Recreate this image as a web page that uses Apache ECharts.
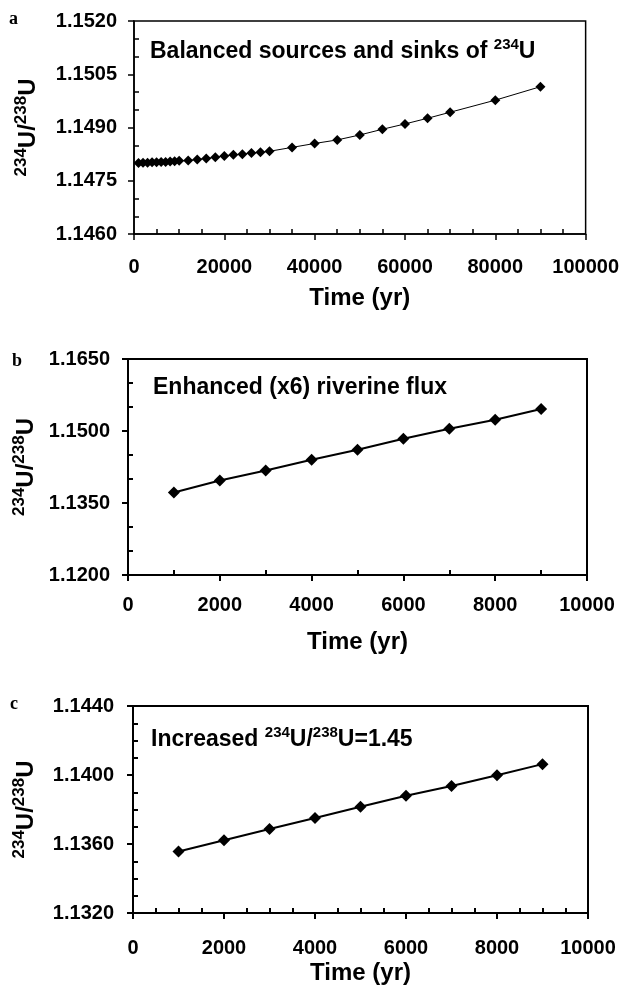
<!DOCTYPE html>
<html>
<head>
<meta charset="utf-8">
<title>234U/238U model runs</title>
<script src="https://cdn.jsdelivr.net/npm/echarts@6/dist/echarts.min.js"></script>
<style>
  html, body { margin: 0; padding: 0; background: #fff; }
  #main { width: 622px; height: 989px; }
</style>
</head>
<body>
<div id="main"></div>
<script>
// panel a - balanced sources and sinks of 234U
var timeA = [1000, 2000, 3000, 4000, 5000, 6000, 7000, 8000, 9000, 10000,
  12000, 14000, 16000, 18000, 20000, 22000, 24000, 26000, 28000, 30000,
  35000, 40000, 45000, 50000, 55000, 60000, 65000, 70000, 80000, 90000];
var ratioA = [1.14800, 1.14801, 1.14801, 1.14802, 1.14802, 1.14803, 1.14803, 1.14804, 1.14805, 1.14806,
  1.14807, 1.14810, 1.14813, 1.14816, 1.14820, 1.14823, 1.14825, 1.14828, 1.14830, 1.14833,
  1.14844, 1.14855, 1.14865, 1.14879, 1.14895, 1.14910, 1.14926, 1.14943, 1.14977, 1.15015];

// panel b - enhanced (x6) riverine flux
var timeB = [1000, 2000, 3000, 4000, 5000, 6000, 7000, 8000, 9000];
var ratioB = [1.13717, 1.13967, 1.14176, 1.14399, 1.14608, 1.14837, 1.15046, 1.15234, 1.15457];

// panel c - increased 234U/238U of the input
var timeC = [1000, 2000, 3000, 4000, 5000, 6000, 7000, 8000, 9000];
var ratioC = [1.13556, 1.13622, 1.13687, 1.13751, 1.13816, 1.13880, 1.13936, 1.13999, 1.14063];

// y axis floors and steps (real values)
var yFloor = [1.1460, 1.1200, 1.1320];
var yTop = [1.1520, 1.1650, 1.1440];
var yStep = [0.0015, 0.0150, 0.0040];

var font = 'Liberation Sans';
var chart = echarts.init(document.getElementById('main'));

// y is plotted as offset from the floor in units of 1e-4, so ticks start on the floor
function toOffset(v, i) { return Math.round((v - yFloor[i]) * 1e6) / 100; }
function pairs(xs, ys, i) {
  return xs.map(function (x, k) { return [x, toOffset(ys[k], i)]; });
}

var panels = [
  { grid: { left: 134, right: 35, top: 21, height: 213 }, xMax: 100000, xStep: 20000, xMinor: 4, yMinor: 3,
    xs: timeA, ys: ratioA, lw: 1, sym: 10, aw: 1.5, xGap: 23, xName: 52, yGap: 17, yName: 94 },
  { grid: { left: 128, right: 35, top: 359, height: 216 }, xMax: 10000, xStep: 2000, xMinor: 2, yMinor: 3,
    xs: timeB, ys: ratioB, lw: 2, sym: 12, aw: 2, xGap: 20, xName: 55, yGap: 18, yName: 90 },
  { grid: { left: 133, right: 34, top: 706, height: 207 }, xMax: 10000, xStep: 2000, xMinor: 4, yMinor: 4,
    xs: timeC, ys: ratioC, lw: 2, sym: 12, aw: 2, xGap: 25, xName: 48, yGap: 19, yName: 95 }
];

var bold = { color: '#000', fontFamily: font, fontWeight: 'bold' };
var supRich = {
  s: { fontFamily: font, fontWeight: 'bold', fontSize: 17, color: '#000', verticalAlign: 'top' },
  u: { fontFamily: font, fontWeight: 'bold', fontSize: 24, lineHeight: 27, color: '#000', verticalAlign: 'bottom' }
};

var grids = [], xAxes = [], yAxes = [], series = [];
panels.forEach(function (p, i) {
  var line = { lineStyle: { color: '#000', width: p.aw } };
  var yMax = toOffset(yTop[i], i), yInt = Math.round(yStep[i] * 1e4);
  grids.push(Object.assign({ show: true, borderColor: '#000', borderWidth: p.aw, containLabel: false }, p.grid));

  xAxes.push({
    type: 'value', gridIndex: i, position: 'bottom', min: 0, max: p.xMax, interval: p.xStep,
    axisLine: { onZero: false, lineStyle: line.lineStyle },
    axisTick: { length: 6, lineStyle: line.lineStyle },
    axisLabel: Object.assign({
      fontSize: 20, margin: p.xGap,
      formatter: function (v) { return String(v); }
    }, bold),
    splitLine: { show: false },
    name: 'Time (yr)', nameLocation: 'middle', nameGap: p.xName,
    nameTextStyle: Object.assign({ fontSize: 24 }, bold)
  });
  // inner minor ticks
  xAxes.push({
    type: 'value', gridIndex: i, position: 'bottom', min: 0, max: p.xMax, interval: p.xStep,
    axisLine: { show: false }, axisTick: { show: false, inside: true }, axisLabel: { show: false },
    splitLine: { show: false },
    minorTick: { show: true, splitNumber: p.xMinor, length: 5, lineStyle: line.lineStyle }
  });

  yAxes.push({
    type: 'value', gridIndex: i, position: 'left', min: 0, max: yMax, interval: yInt,
    axisLine: { onZero: false, lineStyle: line.lineStyle },
    axisTick: { length: 6, lineStyle: line.lineStyle },
    axisLabel: Object.assign({
      fontSize: 20, margin: p.yGap,
      formatter: function (v) { return (yFloor[i] + v / 1e4).toFixed(4); }
    }, bold),
    splitLine: { show: false },
    name: '{s|234}{u|U/}{s|238}{u|U}', nameLocation: 'middle', nameRotate: 90, nameGap: p.yName,
    nameTextStyle: { rich: supRich }
  });
  yAxes.push({
    type: 'value', gridIndex: i, position: 'left', min: 0, max: yMax, interval: yInt,
    axisLine: { show: false }, axisTick: { show: false, inside: true }, axisLabel: { show: false },
    splitLine: { show: false },
    minorTick: { show: true, splitNumber: p.yMinor, length: 5, lineStyle: line.lineStyle }
  });

  series.push({
    type: 'line', xAxisIndex: 2 * i, yAxisIndex: 2 * i,
    data: pairs(p.xs, p.ys, i),
    symbol: 'diamond', symbolSize: p.sym, showSymbol: true,
    lineStyle: { color: '#000', width: p.lw },
    itemStyle: { color: '#000' },
    silent: true
  });
});

var noteRich = {
  m: { fontFamily: font, fontWeight: 'bold', fontSize: 23, lineHeight: 26, fill: '#000', verticalAlign: 'bottom' },
  s: { fontFamily: font, fontWeight: 'bold', fontSize: 15, fill: '#000', verticalAlign: 'top' }
};
function note(text, x, y) {
  return { type: 'text', x: x, y: y, silent: true,
    style: { text: text, rich: noteRich, align: 'left', verticalAlign: 'middle',
      textAlign: 'left', textVerticalAlign: 'middle' } };
}
function letter(t, x, y) {
  return { type: 'text', x: x, y: y, silent: true,
    style: { text: t, font: 'bold 18px "Liberation Serif"', fill: '#000',
      align: 'left', verticalAlign: 'middle', textAlign: 'left', textVerticalAlign: 'middle' } };
}

chart.setOption({
  animation: false,
  backgroundColor: '#fff',
  textStyle: { fontFamily: font },
  grid: grids,
  xAxis: xAxes,
  yAxis: yAxes,
  series: series,
  graphic: [
    letter('a', 9, 19),
    letter('b', 12, 361),
    letter('c', 10, 704),
    note('{m|Balanced sources and sinks of }{s|234}{m|U}', 150, 50),
    note('{m|Enhanced (x6) riverine flux}', 153, 386),
    note('{m|Increased }{s|234}{m|U/}{s|238}{m|U=1.45}', 151, 738)
  ]
});
</script>
</body>
</html>
